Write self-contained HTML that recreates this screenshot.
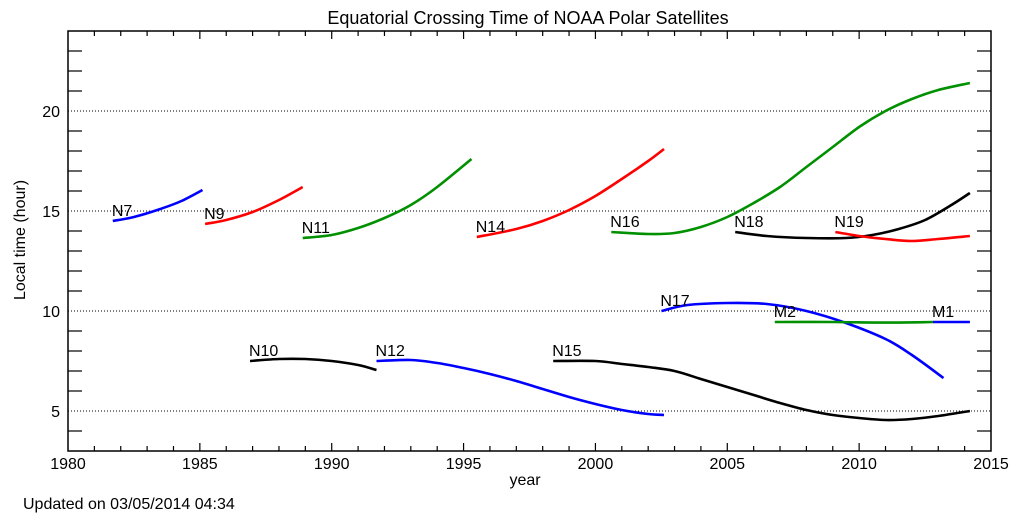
<!DOCTYPE html>
<html><head><meta charset="utf-8"><style>
body{margin:0;background:#fff}
svg{display:block;font-family:"Liberation Sans",sans-serif}
</style></head><body>
<svg id="chart" width="1024" height="524">
<text x="528" y="24" font-size="18" text-anchor="middle">Equatorial Crossing Time of NOAA Polar Satellites</text>
<text x="525" y="485" font-size="16" text-anchor="middle">year</text>
<text transform="translate(25,240) rotate(-90)" font-size="16" text-anchor="middle">Local time (hour)</text>
<text x="23" y="509" font-size="16">Updated on 03/05/2014 04:34</text>
<g id="grid"></g><g id="axes"></g><g id="series"></g><g id="labels"></g>
</svg>
<script>
const xTicks=[1980,1985,1990,1995,2000,2005,2010,2015];
const yTicks=[5,10,15,20];
const satNames=["N7","N9","N11","N14","N16","N18","N19","N17","M2","M1","N10","N12","N15"];
const satColors=["#0000ff","#ff0000","#009000","#ff0000","#009000","#000000","#ff0000","#0000ff","#009000","#0000ff","#000000","#0000ff","#000000"];
const yearsN7=[1981.7,1982.5,1983.5,1984.3,1985.1], valsN7=[14.5,14.7,15.1,15.5,16.05];
const yearsN9=[1985.2,1986,1987,1988,1988.9], valsN9=[14.35,14.55,14.95,15.55,16.2];
const yearsN11=[1988.9,1990,1991,1992,1993,1994,1995.3], valsN11=[13.65,13.8,14.15,14.65,15.3,16.2,17.6];
const yearsN14=[1995.5,1997,1998,1999,2000,2001,2002,2002.6], valsN14=[13.7,14.1,14.5,15.05,15.75,16.6,17.5,18.1];
const yearsN16=[2000.6,2002,2003,2004,2005,2006,2007,2008,2009,2010,2011,2012,2013,2014.2], valsN16=[13.95,13.85,13.9,14.2,14.7,15.4,16.2,17.2,18.2,19.2,20.0,20.6,21.05,21.4];
const yearsN18=[2005.3,2006.5,2008,2009.5,2010.5,2011.5,2012.5,2013.5,2014.2], valsN18=[13.95,13.75,13.65,13.65,13.8,14.1,14.55,15.3,15.9];
const yearsN19=[2009.1,2010,2011,2012,2013,2014.2], valsN19=[13.95,13.75,13.6,13.5,13.6,13.75];
const yearsN17=[2002.5,2003.5,2005,2006.5,2008,2009.5,2011,2012,2013.2], valsN17=[10.0,10.3,10.4,10.35,10.0,9.4,8.6,7.8,6.65];
const yearsM2=[2006.8,2009,2011,2012.8], valsM2=[9.45,9.45,9.42,9.45];
const yearsM1=[2012.8,2014.2], valsM1=[9.45,9.45];
const yearsN10=[1986.9,1988,1989,1990,1991,1991.7], valsN10=[7.5,7.6,7.6,7.5,7.3,7.05];
const yearsN12=[1991.7,1993,1994,1995,1996,1997,1998,1999,2000,2001,2002,2002.6], valsN12=[7.5,7.55,7.4,7.15,6.85,6.5,6.1,5.7,5.35,5.05,4.85,4.8];
const yearsN15=[1998.4,2000,2001,2002,2003,2004,2005,2006,2007,2008,2009,2010,2011,2012,2013,2014.2], valsN15=[7.5,7.5,7.35,7.2,7.0,6.6,6.2,5.8,5.4,5.05,4.8,4.65,4.55,4.6,4.75,5.0];
const allYears=[yearsN7,yearsN9,yearsN11,yearsN14,yearsN16,yearsN18,yearsN19,yearsN17,yearsM2,yearsM1,yearsN10,yearsN12,yearsN15];
const allVals=[valsN7,valsN9,valsN11,valsN14,valsN16,valsN18,valsN19,valsN17,valsM2,valsM1,valsN10,valsN12,valsN15];

const X0=68,X1=991,Y0=451,Y1=31,XMIN=1980,XMAX=2015,YMIN=3,YMAX=24;
const sx=v=>X0+(v-XMIN)/(XMAX-XMIN)*(X1-X0);
const sy=v=>Y0-(v-YMIN)/(YMAX-YMIN)*(Y0-Y1);
const NS="http://www.w3.org/2000/svg";
function mk(tag,attrs,parent){const e=document.createElementNS(NS,tag);for(const k in attrs)e.setAttribute(k,attrs[k]);parent.appendChild(e);return e;}
function smooth(pts){
  let d='M'+pts[0][0].toFixed(1)+','+pts[0][1].toFixed(1);
  for(let i=0;i<pts.length-1;i++){
    const p0=pts[Math.max(0,i-1)],p1=pts[i],p2=pts[i+1],p3=pts[Math.min(pts.length-1,i+2)];
    const c1=[p1[0]+(p2[0]-p0[0])/6,p1[1]+(p2[1]-p0[1])/6];
    const c2=[p2[0]-(p3[0]-p1[0])/6,p2[1]-(p3[1]-p1[1])/6];
    d+=' C'+c1[0].toFixed(1)+','+c1[1].toFixed(1)+' '+c2[0].toFixed(1)+','+c2[1].toFixed(1)+' '+p2[0].toFixed(1)+','+p2[1].toFixed(1);
  }
  return d;
}
const grid=document.getElementById('grid'),axes=document.getElementById('axes'),series=document.getElementById('series'),labels=document.getElementById('labels');
yTicks.forEach(v=>{
  const g=mk('line',{x1:X0,x2:X1,y1:sy(v),y2:sy(v),stroke:'#000','stroke-width':1,'stroke-dasharray':'1,2'},grid);
  
  
  const t=mk('text',{x:X0-8,y:sy(v)+6,'font-size':16,'text-anchor':'end'},axes);t.textContent=v;
  
  
});
const frame=mk('rect',{x:X0,y:Y1,width:X1-X0,height:Y0-Y1,fill:'none',stroke:'#000','stroke-width':1.5},axes);


for(let y=YMIN+1;y<YMAX;y++){
  if(y%5!==0){mk('line',{x1:X0,x2:X0+14,y1:sy(y),y2:sy(y),stroke:'#000','stroke-width':1.2},axes);
  mk('line',{x1:X1,x2:X1-14,y1:sy(y),y2:sy(y),stroke:'#000','stroke-width':1.2},axes);}
}
for(let yr=XMIN+1;yr<XMAX;yr++){
  const len=(yr%5===0)?8:5;
  mk('line',{x1:sx(yr),x2:sx(yr),y1:Y0,y2:Y0-len,stroke:'#000','stroke-width':1.2},axes);
  mk('line',{x1:sx(yr),x2:sx(yr),y1:Y1,y2:Y1+len,stroke:'#000','stroke-width':1.2},axes);
}
xTicks.forEach(v=>{
  const t=mk('text',{x:sx(v),y:Y0+18,'font-size':16,'text-anchor':'middle'},axes);t.textContent=v;
  
  
});
allYears.forEach((ys,i)=>{
  const vs=allVals[i];
  const pts=ys.map((y,j)=>[sx(y),sy(vs[j])]);
  const p=mk('path',{d:smooth(pts),fill:'none',stroke:satColors[i],'stroke-width':2.6,'stroke-linejoin':'round'},series);
  
  
  const t=mk('text',{x:sx(ys[0])-1,y:sy(vs[0])-5,'font-size':16},labels);t.textContent=satNames[i];
  
  
});
</script>
</body></html>
